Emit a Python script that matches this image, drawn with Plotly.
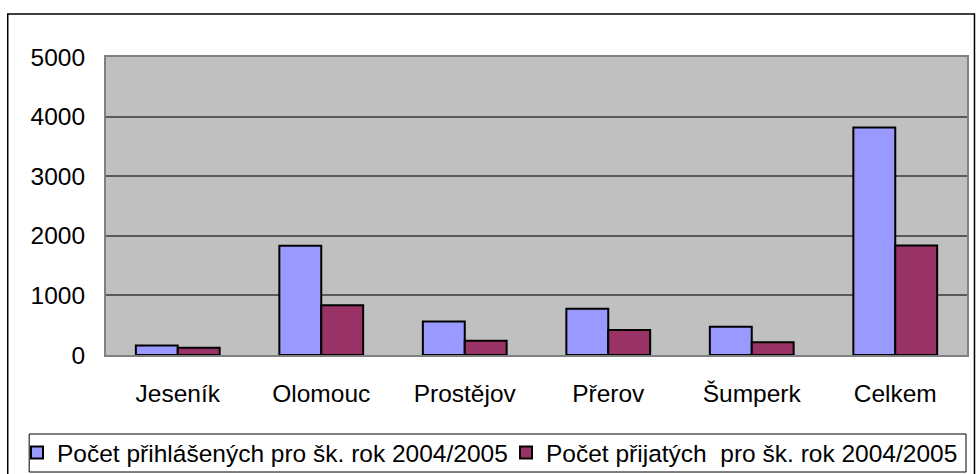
import plotly.graph_objects as go

categories = ["Jeseník", "Olomouc", "Prostějov", "Přerov", "Šumperk", "Celkem"]
prihlaseni = [160, 1835, 563, 774, 473, 3818]
prijati = [120, 836, 239, 418, 212, 1839]
series_names = ["Počet přihlášených pro šk. rok 2004/2005", "Počet přijatých  pro šk. rok 2004/2005"]
y_ticks = [0, 1000, 2000, 3000, 4000, 5000]

FONT = "Liberation Sans, Arial, sans-serif"
FS = 24.5
W, H = 977, 474
L, R, T, B = 106, 8, 57, 119
PW, PH = W - L - R, H - T - B


def px_x(px):
    return (px - L) / PW


def px_y(py):
    return (H - B - py) / PH


fig = go.Figure()
fig.add_trace(go.Bar(x=categories, y=prihlaseni, name=series_names[0], legend="legend",
                     marker=dict(color="#9999FF", line=dict(color="black", width=2))))
fig.add_trace(go.Bar(x=categories, y=prijati, name=series_names[1], legend="legend2",
                     marker=dict(color="#993366", line=dict(color="black", width=2))))

legend_common = dict(
    orientation="h",
    xref="container", yref="container",
    y=(H - 430) / H, xanchor="left", yanchor="top",
    bgcolor="rgba(0,0,0,0)", borderwidth=0,
    font=dict(family=FONT, size=FS, color="black"),
)

fig.update_layout(
    width=W, height=H,
    margin=dict(l=L, r=R, t=T, b=B),
    paper_bgcolor="white",
    plot_bgcolor="#C0C0C0",
    font=dict(family=FONT, size=FS, color="black"),
    barmode="group",
    bargap=0.416,
    bargroupgap=0,
    showlegend=True,
    legend=dict(x=17 / W, **legend_common),
    legend2=dict(x=506 / W, **legend_common),
    shapes=[
        dict(type="rect", xref="paper", yref="paper",
             x0=px_x(7.5), x1=px_x(976.5), y0=px_y(480), y1=px_y(14),
             line=dict(color="black", width=1.5), fillcolor="rgba(0,0,0,0)",
             layer="below"),
        dict(type="rect", xref="paper", yref="paper",
             x0=px_x(29), x1=px_x(968), y0=px_y(472), y1=px_y(434),
             line=dict(color="black", width=1), fillcolor="white",
             layer="below"),
    ],
)
fig.update_xaxes(
    showgrid=False, showline=True, linecolor="#808080", linewidth=2, mirror=True,
    ticks="outside", ticklen=16, tickcolor="rgba(0,0,0,0)",
    tickfont=dict(family=FONT, size=FS),
)
fig.update_yaxes(
    range=[0, 5000], tickvals=y_ticks, showgrid=True, gridcolor="#5a5a5a", gridwidth=1.5,
    showline=True, linecolor="#808080", linewidth=2, mirror=True, zeroline=False,
    ticks="outside", ticklen=14, tickcolor="rgba(0,0,0,0)",
    tickfont=dict(family=FONT, size=FS),
)
fig.write_html("out.html", config={"displayModeBar": False},
               post_script="document.body.style.margin='0';document.body.style.overflow='hidden';")
